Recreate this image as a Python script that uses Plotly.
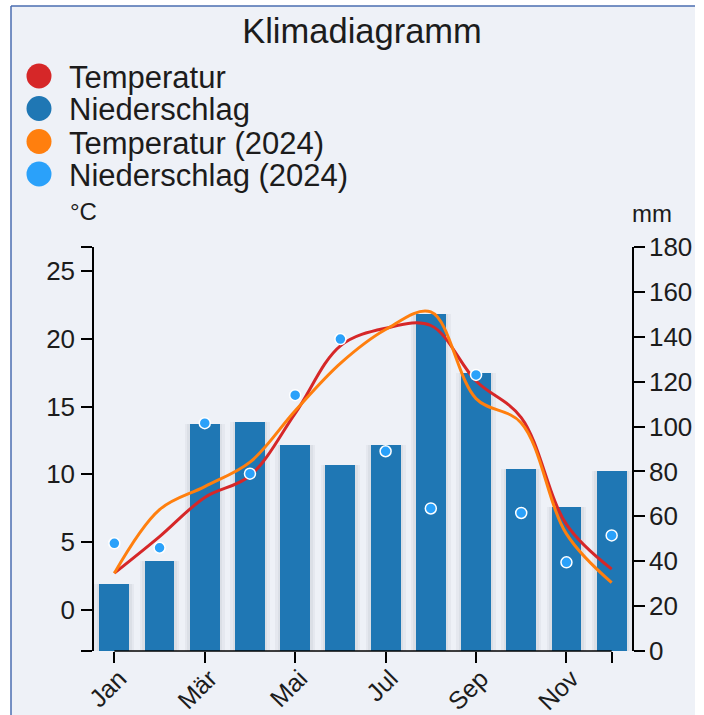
import plotly.graph_objects as go

# ---------------- data ----------------
months = ["Jan", "Feb", "Mär", "Apr", "Mai", "Jun", "Jul", "Aug", "Sep", "Okt", "Nov", "Dez"]
temperatur = [2.7, 5.4, 8.3, 9.9, 14.5, 19.5, 20.8, 21.0, 16.9, 14.2, 6.3, 3.0]
niederschlag = [30, 40, 101, 102, 92, 83, 92, 150, 124, 81, 64, 80]
temperatur_2024 = [2.7, 7.4, 9.1, 10.9, 14.7, 18.2, 20.7, 22.0, 15.6, 13.8, 5.6, 2.0]
niederschlag_2024 = [48, 46, 101.5, 79, 114, 139, 89, 63.5, 123, 61.5, 39.5, 51.5]

temp_ticks = [0, 5, 10, 15, 20, 25]
precip_ticks = [0, 20, 40, 60, 80, 100, 120, 140, 160, 180]
x_tick_idx = [0, 2, 4, 6, 8, 10, 11]
x_tick_text = ["Jan", "Mär", "Mai", "Jul", "Sep", "Nov", ""]

legend_names = ["Temperatur", "Niederschlag", "Temperatur (2024)", "Niederschlag (2024)"]

# ---------------- style ----------------
C_TEMP = "#d62728"
C_PREC = "#1f77b4"
C_TEMP24 = "#ff7f0e"
C_PREC24 = "#2aa1fa"
legend_colors = [C_TEMP, C_PREC, C_TEMP24, C_PREC24]
BG = "#eef1f7"
FONT = "Liberation Sans, Arial, Helvetica, sans-serif"
TXT = "#1c1c1c"

W, H = 704, 715
L, R, T, B = 94, 72, 247, 64
PW, PH = W - L - R, H - T - B

def px_x(px):
    return (px - L) / PW

def px_y(py):
    return (H - B - py) / PH

T_MIN, T_MAX = -3.05, 26.8
xs = list(range(len(months)))

fig = go.Figure()

# soft shadow behind the bars
for w, a in [(0.88, 0.05), (0.77, 0.06)]:
    fig.add_trace(go.Bar(
        x=xs, y=niederschlag, yaxis="y", width=w,
        marker=dict(color=f"rgba(70,80,100,{a})", line=dict(width=0)),
        hoverinfo="skip", showlegend=False,
    ))
# bars (precip, right axis -> yaxis)
fig.add_trace(go.Bar(
    x=xs, y=niederschlag, name=legend_names[1], yaxis="y",
    marker=dict(color=C_PREC, line=dict(width=0)), width=0.66,
    showlegend=False,
))
# temperature lines (left axis -> yaxis2)
fig.add_trace(go.Scatter(
    x=xs, y=temperatur, name=legend_names[0], yaxis="y2", mode="lines",
    line=dict(color=C_TEMP, width=3, shape="spline", smoothing=1.0),
    showlegend=False,
))
fig.add_trace(go.Scatter(
    x=xs, y=temperatur_2024, name=legend_names[2], yaxis="y2", mode="lines",
    line=dict(color=C_TEMP24, width=3, shape="spline", smoothing=1.0),
    showlegend=False,
))
# 2024 precipitation points (hidden precip axis on top -> yaxis3)
fig.add_trace(go.Scatter(
    x=xs, y=niederschlag_2024, name=legend_names[3], yaxis="y3", mode="markers",
    marker=dict(color=C_PREC24, size=11, line=dict(color="white", width=1.5)),
    showlegend=False,
))

shapes = [
    # panel background and border
    dict(type="rect", xref="paper", yref="paper", layer="below",
         x0=px_x(11), x1=px_x(695), y0=px_y(720), y1=px_y(6),
         fillcolor=BG, line=dict(width=0)),
    dict(type="line", xref="paper", yref="paper", layer="below",
         x0=px_x(11), x1=px_x(695), y0=px_y(6), y1=px_y(6),
         line=dict(color="#4a6cb0", width=1.5)),
    dict(type="line", xref="paper", yref="paper", layer="below",
         x0=px_x(11), x1=px_x(11), y0=px_y(6), y1=px_y(720),
         line=dict(color="#4a6cb0", width=1.5)),
    # x axis domain line (from first to last month)
    dict(type="line", xref="x", yref="paper", x0=0, x1=len(months) - 1, y0=0, y1=0,
         line=dict(color="black", width=1.5)),
]

annotations = [
    dict(text="°C", xref="paper", yref="paper", x=px_x(83), y=px_y(212),
         xanchor="center", yanchor="middle", showarrow=False,
         font=dict(size=24, color=TXT, family=FONT)),
    dict(text="mm", xref="paper", yref="paper", x=px_x(652), y=px_y(214),
         xanchor="center", yanchor="middle", showarrow=False,
         font=dict(size=24, color=TXT, family=FONT)),
]

# custom legend
leg_y = [76, 108.5, 141.5, 174]
for name, col, yy in zip(legend_names, legend_colors, leg_y):
    shapes.append(dict(type="circle", xref="paper", yref="paper",
                       x0=px_x(39 - 12.5), x1=px_x(39 + 12.5),
                       y0=px_y(yy + 12.5), y1=px_y(yy - 12.5),
                       fillcolor=col, line=dict(width=0)))
    annotations.append(dict(text=name, xref="paper", yref="paper",
                            x=px_x(67), y=px_y(yy + 1.5), xanchor="left", yanchor="middle",
                            showarrow=False, font=dict(size=31, color=TXT, family=FONT)))

fig.update_layout(
    template="none",
    width=W, height=H,
    margin=dict(l=L, r=R, t=T, b=B, pad=0, autoexpand=False),
    paper_bgcolor="white",
    plot_bgcolor="rgba(0,0,0,0)",
    font=dict(family=FONT, color=TXT),
    title=dict(text="Klimadiagramm", x=px_x(362), xref="paper", xanchor="center",
               y=1 - 31 / H, yref="container", yanchor="middle",
               font=dict(size=34.5, color=TXT, family=FONT)),
    showlegend=False,
    barmode="overlay",
    bargap=0,
    xaxis=dict(range=[-0.45, 11.45], tickmode="array", tickvals=x_tick_idx,
               ticktext=x_tick_text, tickangle=-45, ticks="outside", ticklen=11,
               tickwidth=1.5, tickcolor="black", showline=False, showgrid=False,
               zeroline=False, automargin=False, ticklabelstandoff=-9,
               ticklabelshift=5,
               tickfont=dict(size=25, color=TXT, family=FONT)),
    yaxis=dict(range=[0, 180], tickmode="array", tickvals=precip_ticks,
               side="right", anchor="x", ticks="outside", ticklen=11, tickwidth=1.5,
               tickcolor="black", showline=True, linecolor="black", linewidth=1.5,
               showgrid=False, zeroline=False, ticklabelstandoff=-1, automargin=False,
               tickfont=dict(size=26, color=TXT, family=FONT)),
    yaxis2=dict(range=[T_MIN, T_MAX], tickmode="array",
                tickvals=[T_MIN] + temp_ticks + [T_MAX],
                ticktext=[""] + [str(v) for v in temp_ticks] + [""],
                side="left", overlaying="y", anchor="x", ticks="outside", ticklen=11,
                tickwidth=1.5, tickcolor="black", showline=True, linecolor="black",
                linewidth=1.5, showgrid=False, zeroline=False, ticklabelstandoff=1,
                automargin=False, tickfont=dict(size=26, color=TXT, family=FONT)),
    yaxis3=dict(range=[0, 180], overlaying="y", visible=False, anchor="x"),
    shapes=shapes,
    annotations=annotations,
)

fig.write_html("out.html", config={"displayModeBar": False},
               post_script="document.body.style.margin='0px';")
